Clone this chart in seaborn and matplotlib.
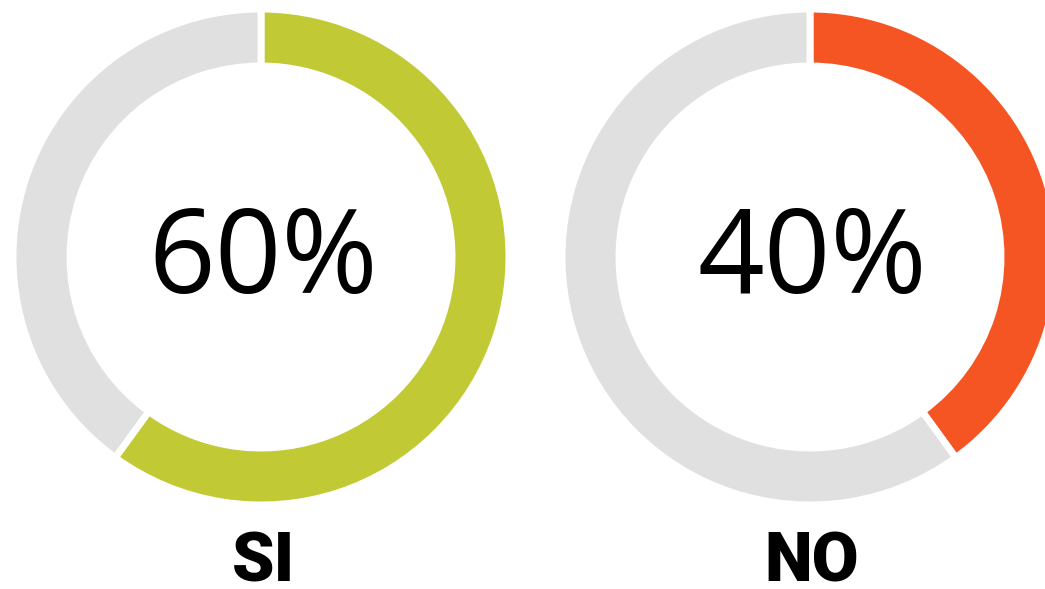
import matplotlib
matplotlib.use("Agg")
import matplotlib.pyplot as plt
import seaborn as sns

# Survey answers, one donut per answer
categories = ["SI", "NO"]
shares = [60, 40]
ring_colors = ["#C1CA34", "#F55523"]
rest_color = "#E0E0E0"

sns.set_theme(style="white")
plt.rcParams["font.family"] = ["Open Sans", "DejaVu Sans"]

W, H = 1045, 589
fig = plt.figure(figsize=(W / 100, H / 100), dpi=100)
ax = fig.add_axes([0, 0, 1, 1])

centers_x = [261, 810]
center_y = H - 257
radius = 248
ring = 57

for cat, share, color, cx in zip(categories, shares, ring_colors, centers_x):
    ax.pie(
        [share, 100 - share],
        colors=[color, rest_color],
        startangle=90,
        counterclock=False,
        center=(cx, center_y),
        radius=radius,
        wedgeprops=dict(width=ring, edgecolor="white", linewidth=5),
        frame=True,
    )
    ax.text(cx + 2, center_y - 6, f"{share}%", ha="center", va="center",
            fontsize=84, color="black", family=["Open Sans", "DejaVu Sans"])
    ax.text(cx + 2, H - 582, cat, ha="center", va="baseline",
            fontsize=49, fontweight="black", family=["Roboto", "DejaVu Sans"],
            color="black")

ax.set_xlim(0, W)
ax.set_ylim(0, H)
ax.set_aspect("equal")
ax.axis("off")
fig.savefig("out.png", dpi=100)
